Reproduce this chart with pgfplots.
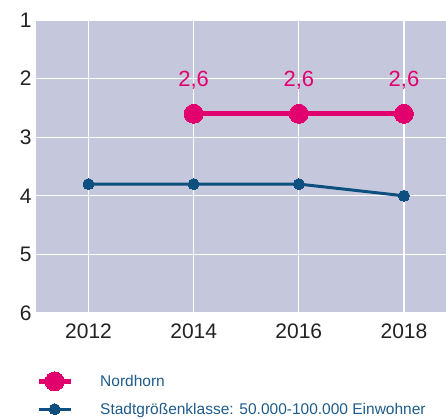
\documentclass[border=0pt]{standalone}
\usepackage{fontspec}
\setmainfont{Liberation Sans}
\usepackage{pgfplots}
\pgfplotsset{compat=1.18}
\definecolor{bgcol}{HTML}{C5C8DC}
\definecolor{pinkc}{HTML}{E2006E}
\definecolor{bluec}{HTML}{0D4F7E}
\definecolor{legblue}{HTML}{1F5C8C}
\definecolor{tickc}{HTML}{222222}
\begin{document}
\begin{tikzpicture}
\useasboundingbox (0pt,0pt) rectangle (446pt,419pt);
\begin{axis}[
  at={(36pt,106pt)}, anchor=south west,
  scale only axis, width=410pt, height=293pt,
  xmin=2011, xmax=2018.8,
  ymin=1, ymax=6, y dir=reverse,
  xtick={2012,2014,2016,2018},
  ytick={1,2,3,4,5,6},
  /pgf/number format/assume math mode=true,
  /pgf/number format/use comma,
  /pgf/number format/1000 sep={},
  axis background/.style={fill=bgcol},
  axis line style={draw=none},
  major tick length=0pt,
  grid=major,
  major grid style={white, line width=1.2pt},
  ticklabel style={font=\fontsize{21}{24}\selectfont, text=tickc},
  xticklabel style={yshift=-7pt},
  yticklabel style={xshift=-1pt},
  clip=false,
  legend style={draw=none, fill=none, at={(0,-0.20)}, anchor=north west,
    font=\fontsize{15.5}{18}\selectfont, text=legblue,
    row sep=10pt, inner xsep=0pt, inner ysep=0pt,
    nodes={inner xsep=27pt}},
  legend cell align=left,
  legend image code/.code={\draw[mark repeat=2,mark phase=2,#1] plot coordinates {(0pt,0pt)(16pt,0pt)(32pt,0pt)};},
]
\addplot[pinkc, line width=5pt, mark=*, mark size=9.5pt, mark options={solid, fill=pinkc, draw=pinkc, line width=0pt},
  nodes near coords={\pgfmathprintnumber[fixed,precision=1,use comma,assume math mode=true]{\pgfplotspointmeta}},
  point meta=y,
  nodes near coords style={anchor=south, inner sep=0pt, yshift=24pt, text=pinkc, font=\fontsize{22}{24}\selectfont}]
  coordinates {(2014,2.6) (2016,2.6) (2018,2.6)};
\addlegendentry{Nordhorn}
\addplot[bluec, line width=3pt, mark=*, mark size=5.5pt, mark options={solid, fill=bluec, draw=bluec, line width=0pt}]
  coordinates {(2012,3.8) (2014,3.8) (2016,3.8) (2018,4.0)};
\addlegendentry{Stadtgrößenklasse: 50.000-100.000 Einwohner}
\end{axis}
\end{tikzpicture}
\end{document}
